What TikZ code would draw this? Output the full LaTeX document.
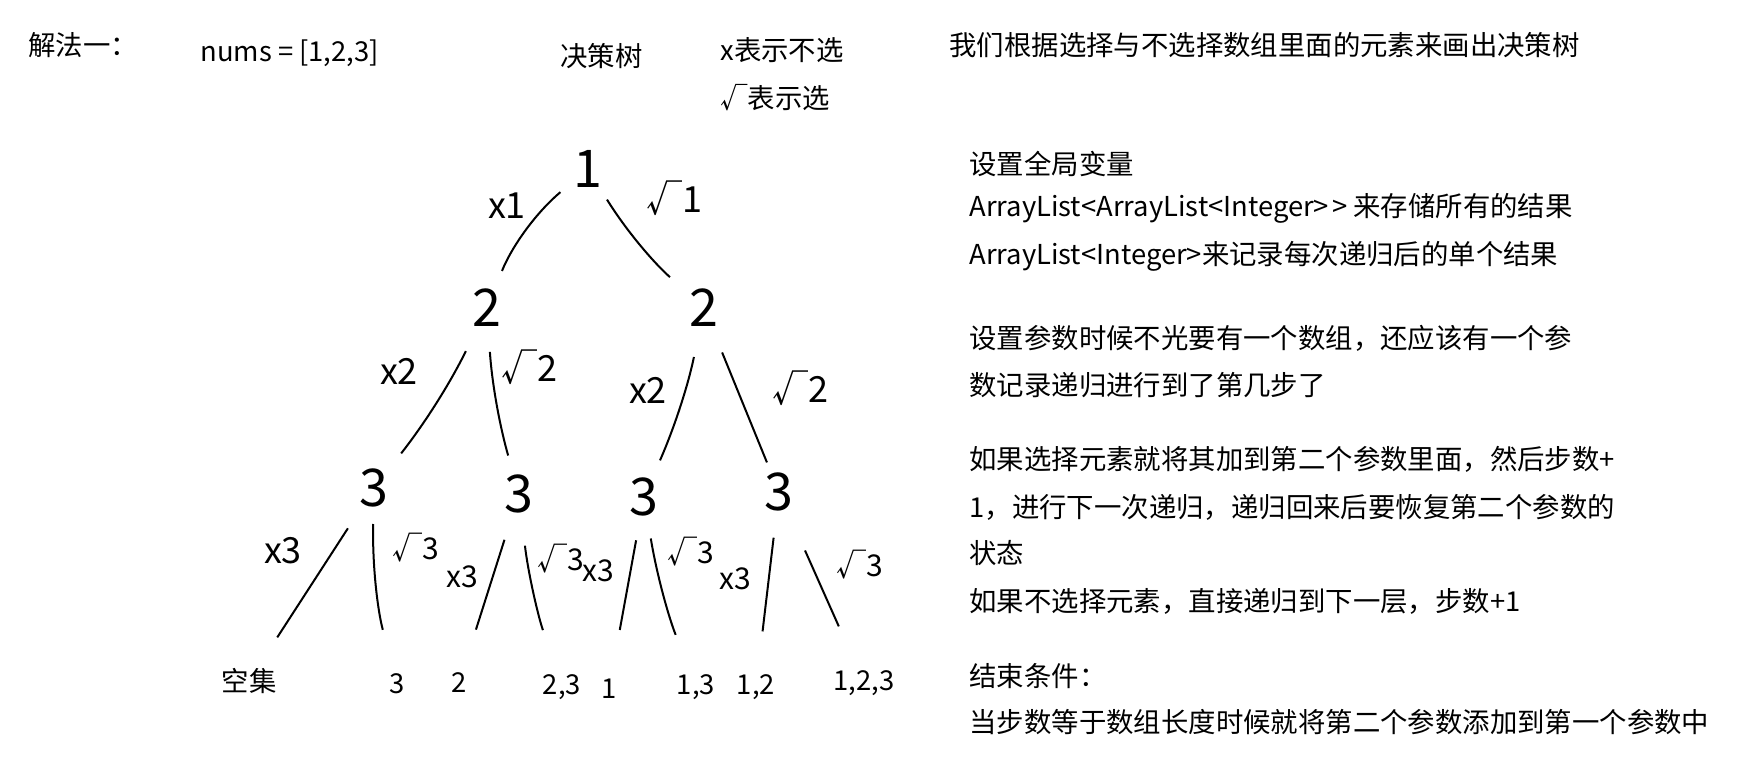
\documentclass[tikz,border=0pt]{standalone}
\usepackage{fontspec}
\setmainfont{Noto Sans CJK SC}
\usetikzlibrary{calc}

\tikzset{
  note/.style     = {anchor=west, inner sep=0pt, font=\fontsize{13.7}{16}\selectfont},
  digit/.style    = {inner sep=0pt, font=\fontsize{26}{26}\selectfont},
  choice/.style   = {inner sep=0pt, font=\fontsize{18}{18}\selectfont},
  choicesm/.style = {inner sep=0pt, font=\fontsize{15}{15}\selectfont},
  subset/.style   = {inner sep=0pt, font=\fontsize{13.7}{16}\selectfont},
  branch/.style   = {line width=1pt, shorten <=23pt, shorten >=28pt},
}

\begin{document}
\begin{tikzpicture}[x=0.5pt, y=-0.5pt]
\useasboundingbox (0,0) rectangle (1746,773);

% ---------- Header ----------
\node[note] (method) at (28,45) {解法一：};
\node[note] (nums) at (200,53) {nums = [1,2,3]};
\node[note] (title) at (560,56) {决策树};
\node[note] (keyx) at (720,50) {x表示不选};
\node[note] (keyv) at (720,98) {√表示选};
\node[note] (intro) at (949,45) {我们根据选择与不选择数组里面的元素来画出决策树};

% ---------- Notes ----------
\node[note] (gvar) at (969,164) {设置全局变量};
\node[note] (gvarall) at (969,208) {ArrayList<ArrayList<Integer>\kern1.5pt> 来存储所有的结果};
\node[note] (gvarone) at (969,256) {ArrayList<Integer>来记录每次递归后的单个结果};
\node[note] (param) at (969,338) {设置参数时候不光要有一个数组，还应该有一个参};
\node[note] (paramb) at (969,385) {数记录递归进行到了第几步了};
\node[note] (pick) at (969,459) {如果选择元素就将其加到第二个参数里面，然后步数+};
\node[note] (pickb) at (969,507) {1，进行下一次递归，递归回来后要恢复第二个参数的};
\node[note] (pickc) at (969,553) {状态};
\node[note] (skip) at (969,601) {如果不选择元素，直接递归到下一层，步数+1};
\node[note] (stop) at (969,676) {结束条件：};
\node[note] (stopb) at (969,722) {当步数等于数组长度时候就将第二个参数添加到第一个参数中};

% ---------- Tree ----------
\node[digit] (root) at (588,169) {1};
\node[digit] (l2a) at (487,308) {2};
\node[digit] (l2b) at (704,308) {2};
\node[digit] (l3a) at (374,488) {3};
\node[digit] (l3b) at (519,494) {3};
\node[digit] (l3c) at (644,497) {3};
\node[digit] (l3d) at (779,492) {3};

% leaves
\node[subset] (empty) at (249,681) {空集};
\node[subset] (s3) at (397,684) {3};
\node[subset] (s2) at (459,683) {2};
\node[subset] (s23) at (562,687) {2,3};
\node[subset] (s1) at (609,689) {1};
\node[subset] (s13) at (696,687) {1,3};
\node[subset] (s12) at (756,687) {1,2};
\node[subset] (s123) at (864,683) {1,2,3};

% choices
\node[choice] (cx1) at (507,206) {x1};
\node[choice] (cv1) at (674,198) {√1};
\node[choice] (cx2a) at (399,371) {x2};
\node[choice] (cv2a) at (529,367) {√2};
\node[choice] (cx2b) at (648,390) {x2};
\node[choice] (cv2b) at (800,388) {√2};
\node[choice] (cx3a) at (283,551) {x3};
\node[choicesm] (cv3a) at (416,548) {√3};
\node[choicesm] (cx3b) at (462,577) {x3};
\node[choicesm] (cv3b) at (561,559) {√3};
\node[choicesm] (cx3c) at (598,571) {x3};
\node[choicesm] (cv3c) at (691,552) {√3};
\node[choicesm] (cx3d) at (735,579) {x3};
\node[choicesm] (cv3d) at (860,565) {√3};

% ---------- Edges ----------
\draw[branch, shorten <=18pt, shorten >=20pt] (root.center) to[bend right=14] (l2a.center);
\draw[branch, shorten <=18pt, shorten >=23pt] (root.center) to[bend right=8] (l2b.center);
\draw[branch, shorten <=24pt, shorten >=22pt] (l2a.center) to[bend left=6] (l3a.center);
\draw[branch, shorten <=22pt, shorten >=20pt] (l2a.center) to[bend right=6] (l3b.center);
\draw[branch, shorten <=25pt, shorten >=20pt] (l2b.center) to[bend left=6] (l3c.center);
\draw[branch, shorten <=24pt, shorten >=16pt] (l2b.center) -- (l3d.center);
\draw[branch, shorten <=24pt, shorten >=26pt] (l3a.center) -- (empty.center);
\draw[branch, shorten <=18pt] (l3a.center) to[bend right=8] (s3.center);
\draw[branch, shorten <=24pt] (l3b.center) -- (s2.center);
\draw[branch, shorten <=26pt, shorten >=30pt] (l3b.center) to[bend right=6] (s23.center);
\draw[branch, shorten <=22pt, shorten >=30pt] (l3c.center) -- (s1.center);
\draw[branch, shorten <=21pt] (l3c.center) to[bend right=6] (s13.center);
\draw[branch] (l3d.center) -- (s12.center);
\draw[branch, shorten <=32pt, shorten >=31pt] (l3d.center) -- (s123.center);

\end{tikzpicture}
\end{document}
